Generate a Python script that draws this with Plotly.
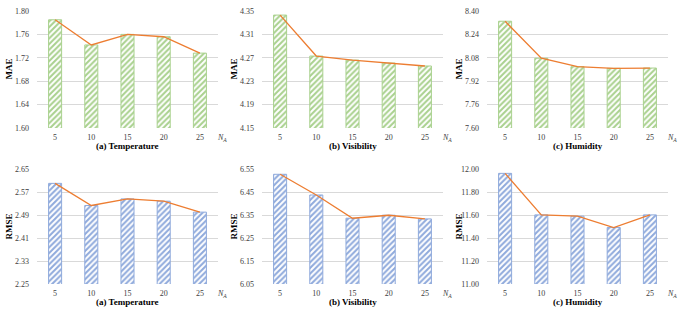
import plotly.graph_objects as go

categories = ["5", "10", "15", "20", "25"]

mae_temperature = [1.785, 1.742, 1.760, 1.756, 1.728]
mae_visibility = [4.343, 4.273, 4.266, 4.261, 4.256]
mae_humidity = [8.330, 8.077, 8.019, 8.008, 8.010]

rmse_temperature = [2.600, 2.523, 2.546, 2.538, 2.500]
rmse_visibility = [6.527, 6.437, 6.336, 6.349, 6.333]
rmse_humidity = [11.962, 11.601, 11.590, 11.491, 11.601]

panel_titles = ["(a) Temperature", "(b) Visibility", "(c) Humidity"]

mae_ticks = [
    [1.60, 1.64, 1.68, 1.72, 1.76, 1.80],
    [4.15, 4.19, 4.23, 4.27, 4.31, 4.35],
    [7.60, 7.76, 7.92, 8.08, 8.24, 8.40],
]
rmse_ticks = [
    [2.25, 2.33, 2.41, 2.49, 2.57, 2.65],
    [6.05, 6.15, 6.25, 6.35, 6.45, 6.55],
    [11.00, 11.20, 11.40, 11.60, 11.80, 12.00],
]

GREEN = "#a9d18e"
BLUE = "#8faadc"
ORANGE = "#ed7d31"
GRID = "#d9d9d9"
FONT = "Liberation Serif"

W, H = 678, 314
x_px = [(37, 218), (262, 443), (487, 668)]
y_px = [(11, 128), (169, 284)]

fig = go.Figure()

rows = [
    ("MAE", [mae_temperature, mae_visibility, mae_humidity], mae_ticks, GREEN),
    ("RMSE", [rmse_temperature, rmse_visibility, rmse_humidity], rmse_ticks, BLUE),
]

annotations = []
idx = 0
for r, (metric, series, ticks, color) in enumerate(rows):
    y0p, y1p = y_px[r]
    ydom = [1 - y1p / H, 1 - y0p / H]
    for c in range(3):
        idx += 1
        x0p, x1p = x_px[c]
        xdom = [x0p / W, x1p / W]
        xa = "x" if idx == 1 else f"x{idx}"
        ya = "y" if idx == 1 else f"y{idx}"
        vals = series[c]
        fig.add_trace(go.Bar(
            x=categories, y=vals, xaxis=xa, yaxis=ya,
            marker=dict(color="white", line=dict(color=color, width=1),
                        pattern=dict(shape="/", fgcolor=color, bgcolor="white",
                                     size=4, solidity=0.5)),
            showlegend=False, hoverinfo="skip",
        ))
        fig.add_trace(go.Scatter(
            x=categories, y=vals, xaxis=xa, yaxis=ya, mode="lines",
            line=dict(color=ORANGE, width=1.3), showlegend=False, hoverinfo="skip",
        ))
        t = ticks[c]
        fig.layout[f"xaxis{'' if idx == 1 else idx}"] = dict(
            domain=xdom, anchor=ya, type="category", showgrid=False,
            showline=False, zeroline=False, ticks="", automargin=False,
            ticklabelstandoff=3,
            tickfont=dict(family=FONT, size=8, color="#404040"),
        )
        fig.layout[f"yaxis{'' if idx == 1 else idx}"] = dict(
            domain=ydom, anchor=xa, range=[t[0], t[-1]], tickvals=t,
            ticktext=[f"{v:.2f}" for v in t], showgrid=True, gridcolor=GRID,
            gridwidth=1, zeroline=False, showline=False, ticks="",
            ticklabelstandoff=7, automargin=False,
            tickfont=dict(family=FONT, size=8, color="#404040"),
        )
        # y-axis title
        annotations.append(dict(
            text=f"<b>{metric}</b>", xref="paper", yref="paper",
            x=(x0p - 29) / W, y=1 - (y0p + y1p) / 2 / H, textangle=-90,
            showarrow=False, font=dict(family=FONT, size=9, color="black"),
            xanchor="center", yanchor="middle",
        ))
        # panel title
        annotations.append(dict(
            text=f"<b>{panel_titles[c]}</b>", xref="paper", yref="paper",
            x=(x0p + x1p) / 2 / W, y=1 - (y1p + 18) / H,
            showarrow=False, font=dict(family=FONT, size=9, color="black"),
            xanchor="center", yanchor="middle",
        ))
        # N_A label
        annotations.append(dict(
            text="<i>N<sub>A</sub></i>", xref="paper", yref="paper",
            x=(x1p - 2) / W, y=1 - (y1p + 10) / H,
            showarrow=False, font=dict(family=FONT, size=8, color="#404040"),
            xanchor="left", yanchor="middle", borderpad=0,
        ))

fig.update_layout(
    template="none",
    width=W, height=H, margin=dict(l=0, r=0, t=0, b=0),
    paper_bgcolor="white", plot_bgcolor="white",
    bargap=0.64, annotations=annotations,
)

fig.write_html(
    "out.html",
    config={"displayModeBar": False},
    post_script="document.body.style.margin='0px';document.body.style.overflow='hidden';",
)
